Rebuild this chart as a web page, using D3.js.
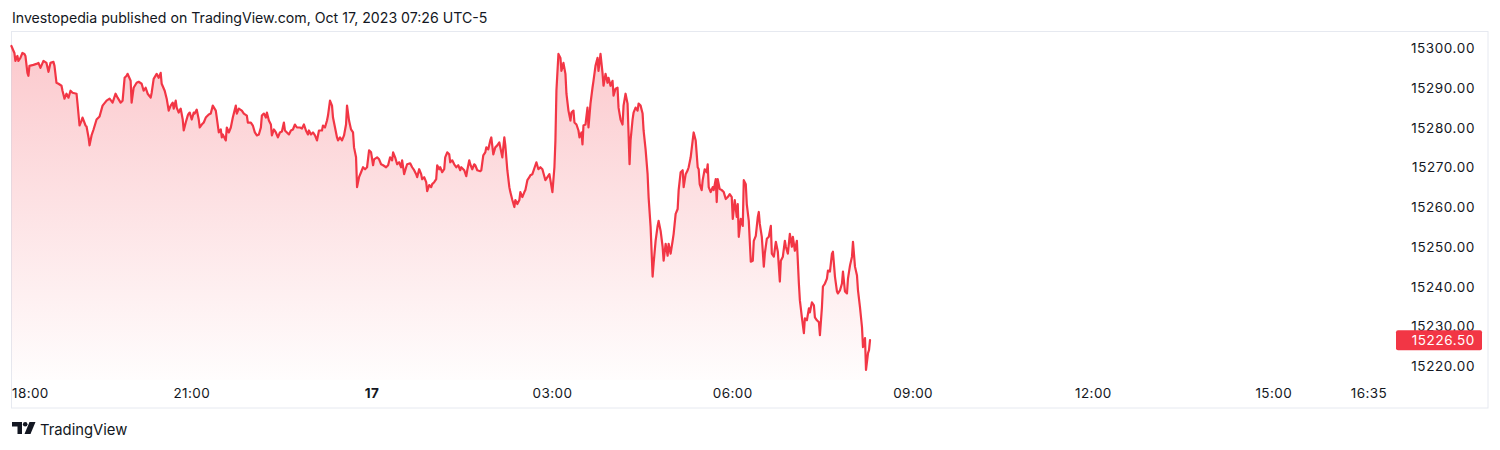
<!DOCTYPE html>
<html><head><meta charset="utf-8">
<script src="https://cdn.jsdelivr.net/npm/d3@7"></script>
<style>
body{margin:0;background:#fff;}
svg{display:block;font-family:Inter,"Noto Sans",sans-serif;}
</style>
</head><body><svg id="c" width="1500" height="450"></svg>
<script>
// ---------- DATA ----------
const headerText = "Investopedia published on TradingView.com, Oct 17, 2023 07:26 UTC-5";
const sessionStart = "2023-10-16T18:00:00";
const sessionEnd = "2023-10-17T17:01:00";
// minutes after session start
const times = [
0,3,4,6,7,9,11,13,14,16, 17,18,22,25,27,29,32,35,37,39,
42,43,45,47,50,51,53,55,57,59, 61,65,66,68,70,71,74,75,77,78,
80,82,85,88,91,95,98,101,104,106, 109,111,113,115,116,119,120,122,125,127,
130,132,134,136,139,140,142,145,147,149, 150,153,155,157,159,161,162,164,165,167,
169,171,172,174,176,177,178,180,182,183, 185,187,188,190,192,194,197,199,201,204,
205,207,209,210,211,214,215,217,219,221, 224,225,227,230,232,235,236,239,241,243,
245,247,249,250,252,254,255,257,259,260, 262,264,266,268,270,272,273,275,277,279,
281,283,285,288,290,292,294,296,297,299, 301,303,305,307,310,311,313,315,316,318,
320,321,323,325,326,328,330,332,334,335, 337,339,341,342,344,345,347,349,351,353,
355,357,359,361,362,365,367,369,371,374, 376,378,380,381,383,385,387,389,390,392,
394,395,398,400,402,404,405,407,409,410, 412,414,415,417,419,420,422,424,425,427,
428,430,432,433,435,437,438,440,442,444, 446,448,449,452,454,455,457,458,460,462,
463,465,468,469,471,473,474,476,478,479, 481,483,485,487,488,490,492,493,495,497,
498,500,502,503,505,507,508,510,512,513, 515,517,518,520,523,524,526,528,530,533,
535,537,538,540,542,543,544,546,548,549, 551,553,554,556,558,559,561,562,564,566,
567,569,570,571,573,575,576,578,580,581, 583,585,586,588,590,591,593,595,596,598,
600,601,603,605,606,608,610,611,613,615, 617,618,620,621,623,625,626,628,630,631,
633,635,636,638,640,641,643,645,646,648, 650,651,653,655,656,658,660,661,663,665,
666,668,670,671,673,675,676,678,680,681, 683,685,686,687,689,690,692,694,695,696,
698,700,701,703,704,705,707,709,711,713, 715,717,719,720,722,724,725,726,728,730,
731,733,734,736,738,740,741,743,745,746, 747,749,751,752,754,756,758,759,761,763,
765,767,768,770,772,773,775,777,779,780, 782,784,786,787,789,791,792,794,796,797,
799,801,802,804,806,807,809,810,812,814, 815,817,819,820,822,824,825,827,829,830,
832,834,835,837,839,840,842,844,845,847, 849,850,852,853,855,856,857
];
const prices = [
15300.5,15298.75,15296.75,15298,15296.75,15297.5,15298.75,15298.5,15298,15293.75,
15293,15295.5,15295.75,15296,15296.25,15295,15296.75,15296.25,15294,15296.25,
15296.5,15295.5,15291.25,15291,15290.5,15289.25,15287.25,15288.5,15287.5,15289.25,
15288.75,15288.5,15286,15280.5,15281.75,15282.5,15280.5,15280.25,15277.5,15275.5,
15278,15279.5,15282,15282.75,15285.5,15286.75,15287.25,15286.25,15288.5,15287.5,
15286.25,15286.75,15292.5,15293,15293.5,15291.75,15286.25,15290,15291.25,15291.5,
15291,15289.25,15290,15288.5,15287.5,15288.75,15292.25,15293.5,15292.5,15293.75,
15291,15289.25,15287.25,15284.25,15285.5,15286.25,15284.75,15286.75,15285,15283.75,
15284.75,15282,15279.25,15281.25,15283,15283.5,15283.75,15282,15283.75,15283.5,
15284.5,15282,15280,15280.75,15281.25,15282.5,15283.25,15283.5,15285.5,15284.25,
15282.5,15278.75,15279.5,15277.5,15278.25,15276.75,15280,15278.75,15280,15282.5,
15285.5,15283.5,15284.75,15284.25,15283.5,15283,15281.25,15281.25,15280.5,15278.75,
15278,15278.25,15280,15283,15283.5,15282.5,15283.75,15281.75,15280.75,15278,
15279.5,15278.75,15277.5,15278.75,15279,15281.25,15279.25,15278.75,15278.25,15279.25,
15279.5,15280.75,15280,15280,15279.75,15280.75,15279.25,15278.25,15279.25,15278.25,
15278.75,15278,15276.75,15279.25,15279.25,15280.5,15280,15281.75,15283,15286.75,
15285.5,15282.5,15280,15277.5,15276.75,15277.5,15276.75,15278,15280.75,15285.5,
15281.75,15279.5,15278.75,15275,15272.5,15265,15267.5,15268.75,15270,15269.5,
15270,15274.25,15273.75,15270.5,15272,15272.5,15272,15270.75,15270.5,15270,
15270.5,15272.5,15271.75,15273.75,15272.5,15270.75,15271.25,15270,15271.75,15268.25,
15270,15270.75,15271,15270,15269.25,15268.25,15267.5,15269.5,15268.25,15267,
15267.5,15266.25,15264,15265.5,15265,15265.75,15266.25,15267,15270.5,15269.5,
15270,15268.75,15269.5,15272.5,15273.75,15273.25,15271.25,15271.75,15270.75,15270,
15270.5,15269.25,15270,15269.25,15267.75,15269.25,15271.75,15270.75,15269.5,15270.75,
15270.5,15269.25,15269,15269.25,15273,15273.75,15275,15274.5,15276.75,15277.5,
15273.25,15275,15275.5,15276.25,15275,15272.5,15277.5,15275.5,15269.25,15265,
15263.75,15261.75,15260,15261.75,15260.75,15261.75,15263.75,15262.5,15263.75,15264.25,
15266.75,15267.5,15268,15268.25,15270.5,15271.25,15269.5,15270,15269.5,15266.75,
15267.5,15268.25,15266.75,15263.75,15270,15276.75,15289.25,15298.5,15297.5,15294.25,
15296.25,15293.5,15288.5,15284.25,15281.75,15283.75,15284.25,15281.25,15280.75,15279.25,
15277.5,15278.75,15275.75,15280.5,15280.75,15285,15280,15286,15290,15291.75,
15295.5,15297.5,15294.25,15298.5,15293.75,15290.5,15293.5,15291.25,15292.5,15290.5,
15291.75,15288,15289.75,15290,15285,15282,15280.75,15285.5,15288.5,15286,
15270.75,15276.75,15282,15283.75,15285,15284.25,15286,15285.5,15283.5,15279.25,
15274.5,15268.25,15262.5,15255,15242.5,15245.75,15251.5,15255.25,15256.5,15254,
15250,15246.5,15250.75,15247.75,15250.75,15248.25,15251.5,15253.25,15258.25,15259.5,
15264.25,15268.75,15269.25,15265,15268.25,15269.25,15270,15272.5,15276.75,15278.75,
15276.75,15270,15269.5,15265.75,15264.25,15266.75,15269.5,15268.75,15270.75,15265,
15263.75,15265,15264.25,15267,15261.25,15267,15264.5,15264.25,15263.75,15262,
15262.5,15263.25,15262.5,15257,15261.75,15257.5,15260.75,15252.5,15257,15255.25,
15266.75,15265.75,15260.75,15256.5,15246.25,15246.5,15251.5,15252.75,15257.5,15258.75,
15255.75,15252.5,15245,15248.25,15252,15252.5,15255.25,15248.25,15247.5,15251.25,
15248.75,15241.25,15246.5,15247.5,15251.5,15250,15248.25,15253.25,15250,15252.5,
15249,15251.5,15240.75,15236.5,15232.25,15228.25,15232,15231.5,15234.5,15233.5,
15236,15235.25,15232.25,15231.5,15231,15227.75,15234.75,15240,15240.75,15242,
15244,15243.75,15248.25,15248.75,15242.5,15238.75,15238.25,15239,15240.75,15243.75,
15238.75,15238.25,15242,15245.25,15247.5,15251.25,15245,15242.75,15239,15234.75,
15229.75,15224.75,15227,15219,15223.25,15224,15226.5
];
const lastPrice = 15226.50;
const priceTicks = [15220,15230,15240,15250,15260,15270,15280,15290,15300];
const timeTicks = ["2023-10-16T18:00:00","2023-10-16T21:00:00","2023-10-17T00:00:00","2023-10-17T03:00:00",
  "2023-10-17T06:00:00","2023-10-17T09:00:00","2023-10-17T12:00:00","2023-10-17T15:00:00","2023-10-17T16:35:00"];
const timeTickLabels = ["18:00","21:00","17","03:00","06:00","09:00","12:00","15:00","16:35"];

// ---------- DRAW ----------
const svg = d3.select("#c");
const lineColor = "#F23645";
const textColor = "#131722";
const paneTop = 31, paneBottom = 380, frameBottom = 408;
const left = 11.4, plotRight = 1395;

const t0 = new Date(sessionStart).getTime();
const data = times.map((m, i) => ({t: new Date(t0 + m * 60000), p: prices[i]}));

const x = d3.scaleTime().domain([new Date(sessionStart), new Date(sessionEnd)]).range([left, plotRight]);
const y = d3.scaleLinear().domain([15220, 15300]).range([366, 48]);

// header
svg.append("text").attr("x", 12).attr("y", 22.5).attr("font-size", 14.15).attr("fill", textColor)
  .text(headerText);

// frame
svg.append("rect").attr("x", 11.5).attr("y", 31.5).attr("width", 1476.5).attr("height", frameBottom - 31.5)
  .attr("fill", "none").attr("stroke", "#e6e9f0").attr("stroke-width", 1);

// gradient
const defs = svg.append("defs");
const grad = defs.append("linearGradient").attr("id", "g").attr("gradientUnits", "userSpaceOnUse")
  .attr("x1", 0).attr("x2", 0).attr("y1", paneTop).attr("y2", paneBottom);
grad.append("stop").attr("offset", 0).attr("stop-color", lineColor).attr("stop-opacity", 0.28);
grad.append("stop").attr("offset", 1).attr("stop-color", lineColor).attr("stop-opacity", 0.01);

const area = d3.area().x(d => x(d.t)).y0(paneBottom).y1(d => y(d.p));
const line = d3.line().x(d => x(d.t)).y(d => y(d.p));

svg.append("path").datum(data).attr("d", area).attr("fill", "url(#g)");
svg.append("path").datum(data).attr("d", line).attr("fill", "none")
  .attr("stroke", lineColor).attr("stroke-width", 2.2).attr("stroke-linejoin", "round").attr("stroke-linecap", "round");

// price axis
const pa = svg.append("g").attr("font-size", 13.5).attr("letter-spacing", 0.6).attr("fill", textColor);
pa.selectAll("text").data(priceTicks).join("text")
  .attr("x", 1475).attr("y", d => y(d)).attr("text-anchor", "end").attr("dominant-baseline", "central")
  .text(d => d3.format(".2f")(d));

// last price label
const ly = y(lastPrice);
svg.append("rect").attr("x", 1396).attr("y", ly - 10).attr("width", 86).attr("height", 20).attr("rx", 2)
  .attr("fill", lineColor);
svg.append("text").attr("x", 1475).attr("y", ly).attr("text-anchor", "end").attr("dominant-baseline", "central")
  .attr("font-size", 13.5).attr("letter-spacing", 0.6).attr("fill", "#fff").text(d3.format(".2f")(lastPrice));

// time axis
const ta = svg.append("g").attr("font-size", 13.5).attr("letter-spacing", 0.4).attr("fill", textColor);
ta.selectAll("text").data(timeTicks).join("text")
  .attr("x", (d, i) => i === 0 ? 12 : x(new Date(d)))
  .attr("y", 393).attr("dominant-baseline", "central")
  .attr("text-anchor", (d, i) => i === 0 ? "start" : "middle")
  .attr("font-weight", (d, i) => timeTickLabels[i] === "17" ? 700 : 400)
  .text((d, i) => timeTickLabels[i]);

// TradingView logo
const logo = svg.append("g").attr("fill", textColor);
logo.append("path").attr("d", "M12,422 H22 V434 H17.5 V426.5 H12 Z");
logo.append("circle").attr("cx", 25.2).attr("cy", 424.3).attr("r", 2.3);
logo.append("path").attr("d", "M29.5,422 H35.5 L30.5,434 H24.5 Z");
svg.append("text").attr("x", 40).attr("y", 435).attr("font-size", 14.8).attr("fill", textColor).text("TradingView");
</script>
</body></html>
